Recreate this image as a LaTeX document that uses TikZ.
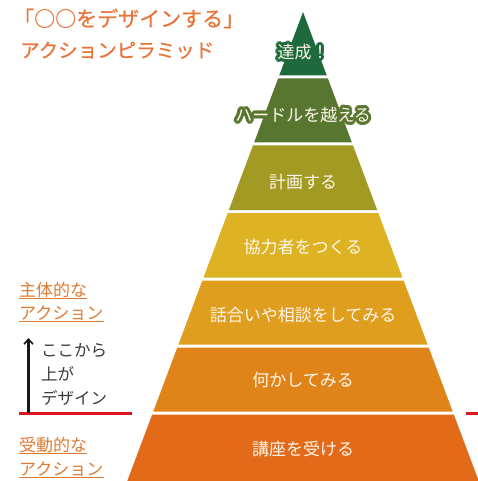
\documentclass[tikz,border=0pt]{standalone}
\usepackage{fontspec}
\newfontfamily\jp{Noto Sans CJK JP}
\newfontfamily\jpb[FakeBold=0.5]{Noto Sans CJK JP}
\usetikzlibrary{calc,arrows.meta}
\definecolor{tA}{HTML}{1E6A3C}
\definecolor{tB}{HTML}{58762F}
\definecolor{tC}{HTML}{A39A24}
\definecolor{tD}{HTML}{DDB323}
\definecolor{tE}{HTML}{E09E1E}
\definecolor{tF}{HTML}{E0841A}
\definecolor{tG}{HTML}{E26A19}
\definecolor{ttl}{HTML}{E8743A}
\definecolor{lbl}{HTML}{E07A30}
\definecolor{redline}{HTML}{E0141E}
\definecolor{cream}{HTML}{FFF7EA}
\definecolor{darktext}{HTML}{3A3A3A}
\tikzset{
  titletext/.style={font=\jpb\fontsize{19.5}{22}\selectfont, text=ttl, inner sep=0pt, anchor=base west},
  sidelbl/.style={font=\jp\fontsize{17}{20}\selectfont, text=lbl, inner sep=0pt, anchor=base west},
  uline/.style={draw=lbl, line width=1.4pt},
  notetext/.style={font=\jp\fontsize{16.5}{20}\selectfont, text=darktext, inner sep=0pt, anchor=base west},
  tierlbl/.style={font=\jp\fontsize{17}{20}\selectfont, text=cream, inner sep=0pt},
}
\newcommand{\glowlabel}[4]{%
  \foreach \gr in {1.5,3} {\foreach \ga in {0,22.5,...,337.5} {%
    \node[tierlbl, text=#3] at ($(#2)+(\ga:\gr)$) {#4};}}%
  \node[tierlbl] (#1) at (#2) {#4};%
}
\begin{document}
\begin{tikzpicture}[x=1pt,y=-1pt]
\useasboundingbox (0,0) rectangle (477,481);
% red line
\coordinate (rl1) at (19,413.5);
\coordinate (rl2) at (132,413.5);
\coordinate (rr1) at (466,413.5);
\coordinate (rr2) at (478,413.5);
\draw[redline, line width=2.6pt] (rl1) -- (rl2);
\draw[redline, line width=2.6pt] (rr1) -- (rr2);
% pyramid tiers
\foreach \yt/\yb/\c in {12/75.5/tA, 78.5/142.5/tB, 145.5/210/tC, 213/277.5/tD, 280.5/344.5/tE, 347.5/411.5/tF, 414.5/483/tG} {
  \fill[\c] ({303-(\yt-12)*0.3747},\yt) -- ({303+(\yt-12)*0.3747},\yt)
     -- ({303+(\yb-12)*0.3747},\yb) -- ({303-(\yb-12)*0.3747},\yb) -- cycle;
}
% tier labels
\coordinate (p1) at (303,52);
\coordinate (p2) at (303,115);
\glowlabel{l1}{p1}{tA}{達成！}
\glowlabel{l2}{p2}{tB}{ハードルを越える}
\node[tierlbl] (l3) at (303,182) {計画する};
\node[tierlbl] (l4) at (303,247) {協力者をつくる};
\node[tierlbl] (l5) at (303,315) {話合いや相談をしてみる};
\node[tierlbl] (l6) at (303,380) {何かしてみる};
\node[tierlbl] (l7) at (303,449) {講座を受ける};
% title
\node[titletext, font=\jpb\fontsize{21}{24}\selectfont] (t1) at (13,26.5) {「○○をデザインする」};
\node[titletext] (t2) at (20,57.5) {アクションピラミッド};
% side labels
\node[sidelbl] (s1) at (19,296) {主体的な};
\node[sidelbl] (s2) at (19,319.5) {アクション};
\node[sidelbl] (s3) at (19,451) {受動的な};
\node[sidelbl] (s4) at (19,475.5) {アクション};
\foreach \s in {s1,s2,s3,s4} {
  \draw[uline] ($(\s.base west)+(0,2.2)$) -- ($(\s.base east)+(0,2.2)$);
}
% note
\node[notetext] (n1) at (41,356) {ここから};
\node[notetext] (n2) at (41,380) {上が};
\node[notetext] (n3) at (41,404) {デザイン};
\coordinate (a0) at (28.5,412.5);
\coordinate (a1) at (28.5,338);
\draw[line width=2.4pt, draw={black!90}, -{Straight Barb[length=5pt,width=9pt,line width=1.6pt]}] (a0) -- (a1);
\end{tikzpicture}
\end{document}
